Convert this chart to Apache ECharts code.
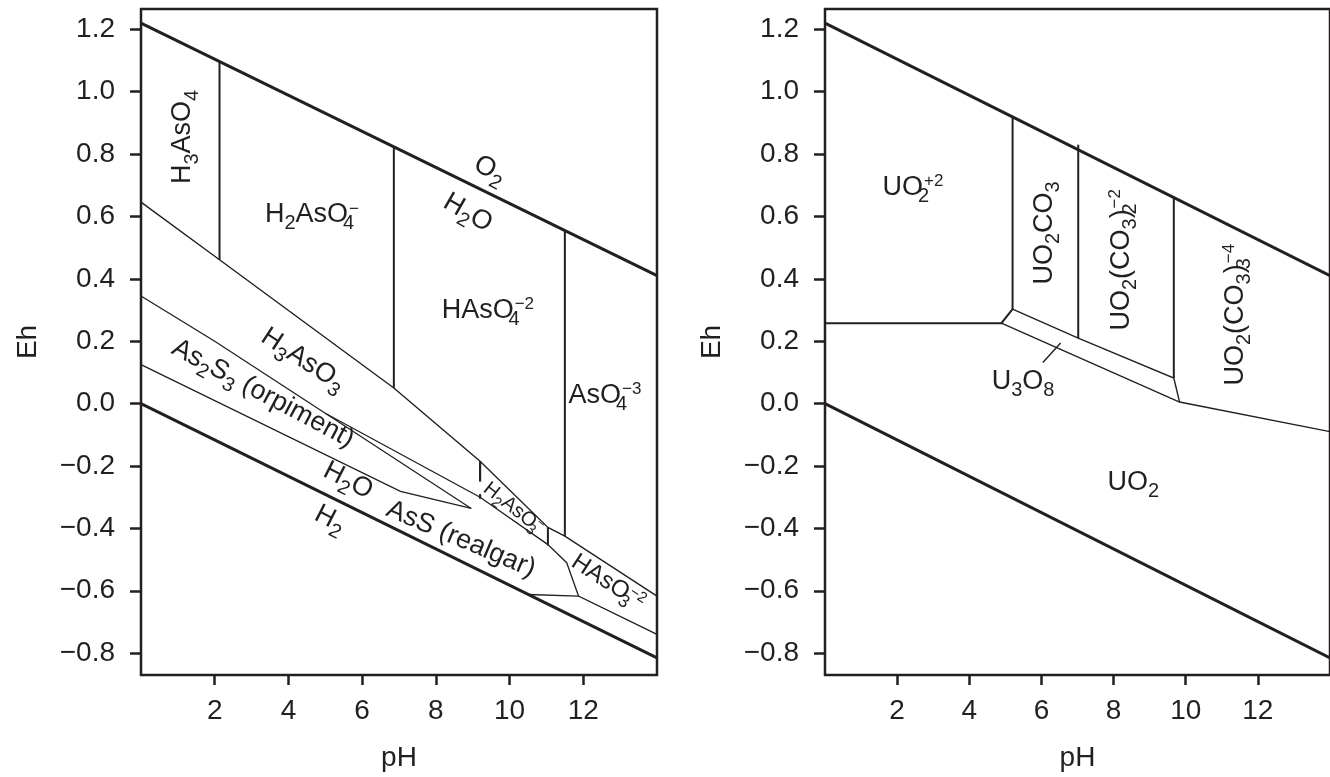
<!DOCTYPE html>
<html><head><meta charset="utf-8">
<script src="https://cdn.jsdelivr.net/npm/echarts@6/dist/echarts.min.js"></script>
<style>html,body{margin:0;padding:0;background:#fff}#c{width:1330px;height:777px}</style>
</head><body><div id="c"></div>
<script>
// ---------- axis ticks ----------
const xTicks = [2, 4, 6, 8, 10, 12];
const yTicks = [-0.8, -0.6, -0.4, -0.2, 0.0, 0.2, 0.4, 0.6, 0.8, 1.0, 1.2];
const yTickLabels = ['−0.8', '−0.6', '−0.4', '−0.2', '0.0', '0.2', '0.4', '0.6', '0.8', '1.0', '1.2'];

// ---------- water stability limits (pH, Eh) ----------
const o2H2oLine = [[0, 1.22], [14, 0.41]];
const h2oH2Line = [[0, 0.0], [14, -0.815]];

// ---------- arsenic diagram boundaries ----------
const asVAsIII = [[0, 0.646], [2.13, 0.461], [6.86, 0.05], [9.2, -0.185], [11.04, -0.397], [11.5, -0.425], [14, -0.617]];
const h3aso4Edge = [[2.13, 1.097], [2.13, 0.461]];
const h2aso4Edge = [[6.86, 0.823], [6.86, 0.05]];
const haso4Edge = [[11.5, 0.554], [11.5, -0.425]];
const h3aso3EdgeA = [[9.2, -0.185], [9.2, -0.25]];
const h3aso3EdgeB = [[9.2, -0.29], [9.2, -0.305]];
const h2aso3Edge = [[11.04, -0.397], [11.04, -0.455]];
const orpimentTop = [[0, 0.345], [2.0, 0.2], [5.0, -0.031], [8.96, -0.336]];
const realgarTop = [[5.0, -0.031], [9.2, -0.30], [11.04, -0.452], [11.55, -0.51], [11.87, -0.617], [14, -0.74]];
const orpimentRealgar = [[0, 0.125], [7.04, -0.281], [8.96, -0.336]];
const realgarBottom = [[10.5, -0.612], [11.87, -0.617]];

// ---------- uranium diagram boundaries ----------
const uo2Upper = [[0, 0.258], [4.89, 0.258], [5.2, 0.303]];
const uo2co3Edge = [[5.2, 0.919], [5.2, 0.303]];
const uo2co32Edge = [[7.02, 0.83], [7.02, 0.21]];
const uo2co33Edge = [[9.67, 0.66], [9.67, 0.082]];
const u3o8Top = [[5.2, 0.303], [7.02, 0.21], [9.67, 0.082], [9.83, 0.005]];
const u3o8Bottom = [[4.89, 0.258], [9.83, 0.005], [14, -0.09]];
const u3o8Leader = [[6.53, 0.194], [6.04, 0.132]];

// ---------- field labels: [text (rich), pH, Eh, rotation, size] ----------
const asLabels = [
  ['{n|H}{b|3}{n|AsO}{b|4}', 1.14, 0.855, 90, 27],
  ['{n|H}{b|2}{n|AsO}{bs|4}{p|−}', 4.64, 0.605, 0, 27],
  ['{n|O}{b|2}', 9.47, 0.749, -28, 27],
  ['{n|H}{b|2}{n|O}', 8.87, 0.611, -30, 27],
  ['{n|HAsO}{bs|4}{p|−2}', 9.41, 0.298, 0, 27],
  ['{n|AsO}{bs|4}{p|−3}', 12.59, 0.026, 0, 27],
  ['{n|H}{b|3}{n|AsO}{b|3}', 4.4, 0.14, -33, 27],
  ['{n|As}{b|2}{n|S}{b|3}{n| (orpiment)}', 3.31, 0.032, -28, 27],
  ['{n|H}{b|2}{n|O}', 5.62, -0.247, -27, 27],
  ['{n|H}{b|2}', 5.13, -0.371, -27, 27],
  ['{n|AsS (realgar)}', 8.68, -0.435, -23, 27],
  ['{n|H}{b|2}{n|AsO}{bs|3}{p|−}', 10.1, -0.335, -38, 20],
  ['{n|HAsO}{bs|3}{p|−2}', 12.67, -0.573, -33, 24]
];
const uLabels = [
  ['{n|UO}{bs|2}{p|+2}', 2.44, 0.692, 0, 27],
  ['{n|UO}{b|2}{n|CO}{b|3}', 6.09, 0.547, 90, 27],
  ['{n|UO}{b|2}{n|(CO}{b|3}{n|)}{bs|2}{p|−2}', 8.22, 0.461, 90, 27],
  ['{n|UO}{b|2}{n|(CO}{b|3}{n|)}{bs|3}{p|−4}', 11.37, 0.285, 90, 27],
  ['{n|U}{b|3}{n|O}{b|8}', 5.49, 0.07, 0, 27],
  ['{n|UO}{b|2}', 8.55, -0.253, 0, 27]
];

// ---------- styling ----------
const INK = '#231f20';
const FONT = '"Liberation Sans", Arial, Helvetica, sans-serif';

function tok(size, extra) {
  return Object.assign({ fontSize: size, fontFamily: FONT, color: INK, textBorderWidth: 0, textShadowBlur: 0 }, extra || {});
}
function rich(size) {
  const sub = Math.round(size * 0.74), sup = Math.round(size * 0.63);
  const dn = Math.round(size * 0.66), up = Math.round(size * 0.45);
  return {
    n: tok(size),
    b: tok(sub, { padding: [dn, 0, 0, 0] }),
    bs: tok(sub, { width: 1, padding: [dn, 0, 0, 0] }),
    p: tok(sup, { padding: [0, 0, up, 0] })
  };
}

function line(data, g, width, dash) {
  return {
    type: 'line', xAxisIndex: g, yAxisIndex: g, data: data,
    symbol: 'none', silent: true, animation: false, z: 3,
    lineStyle: { color: INK, width: width, type: dash || 'solid', cap: 'butt', join: 'miter' }
  };
}

function labels(list, g) {
  return {
    type: 'scatter', xAxisIndex: g, yAxisIndex: g, symbolSize: 0, silent: true, animation: false, z: 5,
    itemStyle: { color: INK, opacity: 1 },
    data: list.map(function (l) {
      return {
        value: [l[1], l[2]],
        label: {
          show: true, position: 'inside', formatter: l[0], rotate: l[3],
          color: INK, textBorderWidth: 0, textBorderColor: 'transparent', opacity: 1,
          align: 'center', verticalAlign: 'middle', rich: rich(l[4])
        }
      };
    })
  };
}

function xAx(g) {
  return {
    type: 'value', gridIndex: g, min: 0, max: 14,
    axisLine: { show: false, onZero: false }, splitLine: { show: false },
    axisTick: { show: true, customValues: xTicks, length: 10, lineStyle: { color: INK, width: 2.5 } },
    axisLabel: { customValues: xTicks, fontSize: 28, margin: 22, color: INK, fontFamily: FONT },
    name: 'pH', nameLocation: 'middle', nameGap: 69,
    nameTextStyle: { fontSize: 28, color: INK, fontFamily: FONT }
  };
}
function yAx(g) {
  return {
    type: 'value', gridIndex: g, min: -0.87, max: 1.265,
    axisLine: { show: false, onZero: false }, splitLine: { show: false },
    axisTick: { show: true, customValues: yTicks, length: 11, lineStyle: { color: INK, width: 2.5 } },
    axisLabel: {
      customValues: yTicks, fontSize: 28, margin: 26, color: INK, fontFamily: FONT,
      formatter: function (v) {
        const i = yTicks.findIndex(function (t) { return Math.abs(t - v) < 1e-6; });
        return i >= 0 ? yTickLabels[i] : '';
      }
    },
    name: 'Eh', nameLocation: 'middle', nameGap: 99,
    nameTextStyle: { fontSize: 28, color: INK, fontFamily: FONT }
  };
}

const chart = echarts.init(document.getElementById('c'), null, { renderer: 'canvas' });
chart.setOption({
  backgroundColor: '#ffffff',
  animation: false,
  grid: [
    { left: 141, right: 673, top: 9, bottom: 101, show: true, borderColor: INK, borderWidth: 2.5, backgroundColor: 'transparent' },
    { left: 825, right: -9, top: 9, bottom: 101, show: true, borderColor: INK, borderWidth: 2.5, backgroundColor: 'transparent' }
  ],
  xAxis: [xAx(0), xAx(1)],
  yAxis: [yAx(0), yAx(1)],
  series: [
    line(o2H2oLine, 0, 3), line(h2oH2Line, 0, 3),
    line(asVAsIII, 0, 1.4),
    line(h3aso4Edge, 0, 2), line(h2aso4Edge, 0, 2), line(haso4Edge, 0, 2),
    line(h3aso3EdgeA, 0, 2.2), line(h3aso3EdgeB, 0, 2.2), line(h2aso3Edge, 0, 2),
    line(orpimentTop, 0, 1.3), line(realgarTop, 0, 1.3), line(orpimentRealgar, 0, 1.3), line(realgarBottom, 0, 1.3),
    line(o2H2oLine, 1, 3), line(h2oH2Line, 1, 3),
    line(uo2Upper, 1, 2), line(uo2co3Edge, 1, 2), line(uo2co32Edge, 1, 2), line(uo2co33Edge, 1, 2),
    line(u3o8Top, 1, 1.4), line(u3o8Bottom, 1, 1.4), line(u3o8Leader, 1, 1.4),
    labels(asLabels, 0), labels(uLabels, 1)
  ]
});
</script></body></html>
